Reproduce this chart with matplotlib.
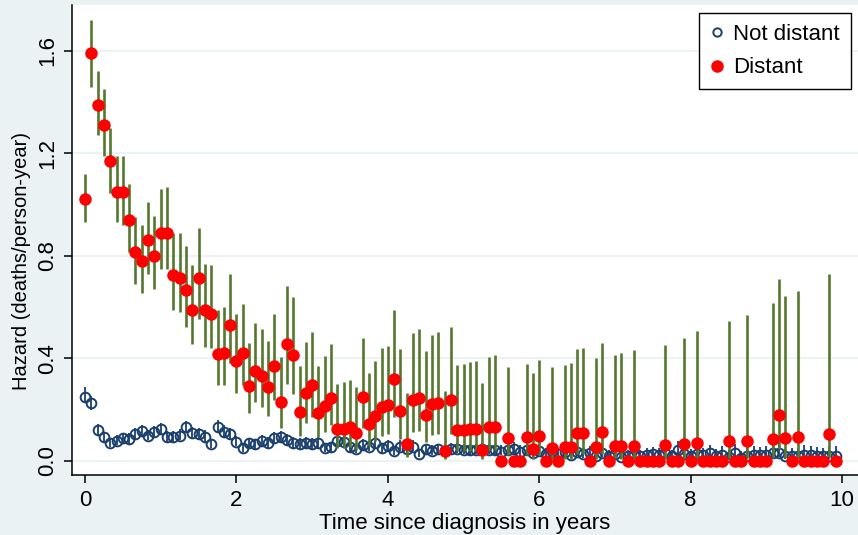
import numpy as np
import matplotlib
matplotlib.use("Agg")
import matplotlib.pyplot as plt
from matplotlib.lines import Line2D

nan = np.nan

# Monthly intervals since diagnosis (120 months)
months = np.arange(120)
years = months / 12.0

# Distant stage: hazard and 95% confidence limits
distant_rate = [
    1.02, 1.59, 1.39, 1.31, 1.17, 1.05, 1.05, 0.94, 0.815, 0.78,
    0.86, 0.80, 0.89, 0.89, 0.725, 0.715, 0.665, 0.59, 0.715, 0.589,
    0.573, 0.417, 0.423, 0.53, 0.388, 0.423, 0.291, 0.352, 0.33, 0.288,
    0.37, 0.23, 0.455, 0.414, 0.191, 0.265, 0.296, 0.187, 0.213, 0.247,
    0.125, 0.126, 0.134, 0.109, 0.25, 0.143, 0.176, 0.209, 0.217, 0.318,
    0.196, 0.065, 0.238, 0.246, 0.179, 0.221, 0.228, 0.04, 0.236, 0.121,
    0.122, 0.123, 0.126, 0.043, 0.131, 0.134, 0.0, 0.091, 0.0, 0.0,
    0.095, 0.047, 0.098, 0.0, 0.05, 0.0, 0.053, 0.053, 0.108, 0.11,
    0.0, 0.056, 0.114, 0.0, 0.058, 0.058, 0.0, 0.06, 0.0, 0.0,
    0.0, 0.0, 0.062, 0.0, 0.0, 0.067, 0.0, 0.072, 0.0, 0.0,
    0.0, 0.0, 0.077, 0.0, 0.0, 0.079, 0.0, 0.0, 0.0, 0.086,
    0.178, 0.091, 0.0, 0.092, 0.0, 0.0, 0.0, 0.0, 0.104, 0.0,
]
distant_lo = [
    0.93, 1.46, 1.27, 1.19, 1.045, 0.93, 0.92, 0.815, 0.69, 0.655,
    0.73, 0.67, 0.75, 0.75, 0.587, 0.58, 0.522, 0.458, 0.555, 0.446,
    0.442, 0.296, 0.296, 0.383, 0.266, 0.296, 0.186, 0.229, 0.211, 0.176,
    0.238, 0.127, 0.30, 0.262, 0.099, 0.148, 0.173, 0.094, 0.112, 0.14,
    0.052, 0.052, 0.056, 0.042, 0.13, 0.06, 0.078, 0.098, 0.104, 0.172,
    0.087, 0.016, 0.113, 0.118, 0.074, 0.10, 0.104, 0.006, 0.105, 0.039,
    0.039, 0.039, 0.04, 0.006, 0.042, 0.043, nan, 0.023, nan, nan,
    0.024, 0.0065, 0.025, nan, 0.007, nan, 0.0072, 0.0072, 0.027, 0.027,
    nan, 0.008, 0.028, nan, 0.008, 0.008, nan, 0.0085, nan, nan,
    nan, nan, 0.0087, nan, nan, 0.0094, nan, 0.01, nan, nan,
    nan, nan, 0.011, nan, nan, 0.011, nan, nan, nan, 0.012,
    0.045, 0.013, nan, 0.013, nan, nan, nan, nan, 0.015, nan,
]
distant_hi = [
    1.12, 1.72, 1.52, 1.45, 1.30, 1.19, 1.19, 1.08, 0.95, 0.92,
    1.01, 0.955, 1.06, 1.07, 0.89, 0.89, 0.84, 0.765, 0.91, 0.77,
    0.764, 0.59, 0.60, 0.73, 0.572, 0.613, 0.462, 0.537, 0.515, 0.467,
    0.572, 0.404, 0.682, 0.64, 0.37, 0.463, 0.504, 0.37, 0.41, 0.455,
    0.30, 0.307, 0.316, 0.287, 0.478, 0.342, 0.39, 0.44, 0.45, 0.589,
    0.435, 0.266, 0.50, 0.515, 0.43, 0.49, 0.504, 0.273, 0.524, 0.374,
    0.378, 0.385, 0.39, 0.303, 0.404, 0.413, nan, 0.365, nan, nan,
    0.378, 0.342, 0.394, nan, 0.365, nan, 0.374, 0.383, 0.436, 0.442,
    nan, 0.403, 0.459, nan, 0.413, 0.42, nan, 0.433, nan, nan,
    nan, nan, 0.452, nan, nan, 0.48, nan, 0.507, nan, nan,
    nan, nan, 0.547, nan, nan, 0.568, nan, nan, nan, 0.617,
    0.71, 0.645, nan, 0.663, nan, nan, nan, nan, 0.73, nan,
]

# Not distant stage: hazard and 95% confidence limits
local_rate = [
    0.251, 0.227, 0.121, 0.092, 0.069, 0.078, 0.088, 0.086, 0.105, 0.116,
    0.099, 0.114, 0.123, 0.095, 0.095, 0.099, 0.131, 0.108, 0.105, 0.095,
    0.065, 0.131, 0.114, 0.104, 0.075, 0.049, 0.069, 0.065, 0.079, 0.069,
    0.088, 0.092, 0.082, 0.069, 0.065, 0.069, 0.065, 0.071, 0.05, 0.053,
    0.079, 0.075, 0.054, 0.045, 0.062, 0.056, 0.071, 0.049, 0.058, 0.039,
    0.056, 0.045, 0.056, 0.027, 0.045, 0.039, 0.045, 0.039, 0.045, 0.047,
    0.043, 0.041, 0.043, 0.047, 0.043, 0.041, 0.037, 0.043, 0.047, 0.037,
    0.043, 0.030, 0.040, 0.027, 0.039, 0.027, 0.037, 0.024, 0.035, 0.027,
    0.033, 0.019, 0.030, 0.019, 0.027, 0.017, 0.019, 0.023, 0.019, 0.023,
    0.027, 0.023, 0.030, 0.019, 0.043, 0.027, 0.019, 0.027, 0.023, 0.030,
    0.020, 0.025, 0.015, 0.030, 0.012, 0.020, 0.025, 0.023, 0.025, 0.030,
    0.033, 0.018, 0.020, 0.020, 0.025, 0.022, 0.020, 0.018, 0.020, 0.020,
]
local_lo = [
    0.225, 0.2, 0.1, 0.074, 0.053, 0.061, 0.07, 0.068, 0.086, 0.096,
    0.08, 0.094, 0.102, 0.076, 0.076, 0.08, 0.109, 0.088, 0.085, 0.076,
    0.049, 0.109, 0.093, 0.083, 0.057, 0.035, 0.052, 0.048, 0.06, 0.051,
    0.068, 0.071, 0.062, 0.051, 0.047, 0.05, 0.047, 0.052, 0.035, 0.037,
    0.058, 0.055, 0.037, 0.03, 0.044, 0.039, 0.051, 0.033, 0.04, 0.025,
    0.038, 0.029, 0.038, 0.015, 0.029, 0.024, 0.029, 0.024, 0.029, 0.03,
    0.027, 0.025, 0.027, 0.03, 0.027, 0.025, 0.022, 0.026, 0.029, 0.021,
    0.026, 0.016, 0.023, 0.014, 0.022, 0.014, 0.02, 0.012, 0.019, 0.013,
    0.017, 0.008, 0.015, 0.008, 0.013, 0.007, 0.008, 0.011, 0.008, 0.01,
    0.013, 0.01, 0.015, 0.008, 0.024, 0.012, 0.008, 0.012, 0.01, 0.014,
    0.008, 0.011, 0.005, 0.013, 0.004, 0.008, 0.01, 0.009, 0.01, 0.013,
    0.014, 0.006, 0.007, 0.007, 0.01, 0.008, 0.007, 0.006, 0.007, 0.007,
]
local_hi = [
    0.29, 0.255, 0.145, 0.114, 0.09, 0.10, 0.11, 0.108, 0.128, 0.14,
    0.122, 0.138, 0.148, 0.118, 0.118, 0.123, 0.157, 0.133, 0.13, 0.12,
    0.086, 0.158, 0.14, 0.129, 0.098, 0.068, 0.091, 0.087, 0.103, 0.092,
    0.114, 0.118, 0.107, 0.092, 0.088, 0.093, 0.088, 0.095, 0.07, 0.074,
    0.105, 0.1, 0.076, 0.066, 0.086, 0.079, 0.097, 0.071, 0.082, 0.06,
    0.08, 0.067, 0.08, 0.046, 0.068, 0.061, 0.068, 0.061, 0.069, 0.072,
    0.067, 0.065, 0.068, 0.073, 0.068, 0.066, 0.061, 0.069, 0.074, 0.062,
    0.07, 0.053, 0.067, 0.05, 0.066, 0.05, 0.064, 0.047, 0.063, 0.052,
    0.06, 0.041, 0.057, 0.041, 0.054, 0.039, 0.042, 0.048, 0.042, 0.049,
    0.055, 0.05, 0.06, 0.044, 0.078, 0.057, 0.045, 0.058, 0.052, 0.063,
    0.048, 0.057, 0.042, 0.065, 0.038, 0.05, 0.06, 0.056, 0.06, 0.068,
    0.075, 0.048, 0.052, 0.052, 0.062, 0.058, 0.055, 0.05, 0.055, 0.058,
]

x_ticks = [0, 2, 4, 6, 8, 10]
y_ticks = [0.0, 0.4, 0.8, 1.2, 1.6]
y_tick_labels = ["0.0", "0.4", "0.8", "1.2", "1.6"]

BG = "#EAF2F3"
NAVY = "#1A3F6E"
OLIVE = "#55782E"
RED = "#FF0000"

plt.rcParams["font.family"] = ["Liberation Sans", "DejaVu Sans"]
plt.rcParams["font.size"] = 16

W, H = 858, 535
fig = plt.figure(figsize=(W / 100, H / 100), dpi=100, facecolor=BG)
ax = fig.add_axes([72 / W, 60 / H, 786 / W, 470 / H])
ax.set_facecolor("white")

ax.set_xlim(-0.172, 10.21)
ax.set_ylim(-0.0546, 1.778)

for y in y_ticks:
    ax.axhline(y, color=BG, lw=1.3, zorder=0)

lo_l = np.array(local_lo)
hi_l = np.array(local_hi)
ax.vlines(years, lo_l, hi_l, color=NAVY, lw=1.3, zorder=2)
ax.plot(years, local_rate, "o", mfc="none", mec=NAVY, mew=1.4, ms=7,
        zorder=3, label="Not distant")

lo_d = np.array(distant_lo)
hi_d = np.array(distant_hi)
ok = ~np.isnan(lo_d)
ax.vlines(years[ok], lo_d[ok], hi_d[ok], color=OLIVE, lw=1.9, zorder=4)
ax.plot(years, distant_rate, "o", color=RED, ms=9, mew=0, zorder=5,
        label="Distant")

ax.set_xticks(x_ticks)
ax.set_yticks(y_ticks)
ax.set_yticklabels(y_tick_labels, rotation=90, va="center")
ax.tick_params(axis="both", direction="out", length=6, width=1.1,
               color="black", labelsize=16)
ax.tick_params(axis="x", pad=5)
ax.tick_params(axis="y", pad=4)

for side in ("top", "right"):
    ax.spines[side].set_visible(False)
for side in ("left", "bottom"):
    ax.spines[side].set_linewidth(1.1)
    ax.spines[side].set_color("black")

ax.set_xlabel("Time since diagnosis in years", fontsize=16, labelpad=1)
ax.set_ylabel("Hazard (deaths/person-year)", fontsize=14.5)
ax.yaxis.set_label_coords(-0.052, 0.455)

handles = [
    Line2D([], [], ls="none", marker="o", mfc="none", mec=NAVY, mew=1.4, ms=6),
    Line2D([], [], ls="none", marker="o", color=RED, ms=8),
]
leg = ax.legend(handles, ["Not distant", "Distant"], loc="upper right",
                bbox_to_anchor=(0.991, 0.983), borderaxespad=0,
                frameon=True, fancybox=False, edgecolor="black",
                framealpha=1, handlelength=0.6, handletextpad=0.45,
                labelspacing=0.55, borderpad=0.5, fontsize=16)
leg.get_frame().set_linewidth(1.0)

fig.savefig("out.png", dpi=100, facecolor=BG)
